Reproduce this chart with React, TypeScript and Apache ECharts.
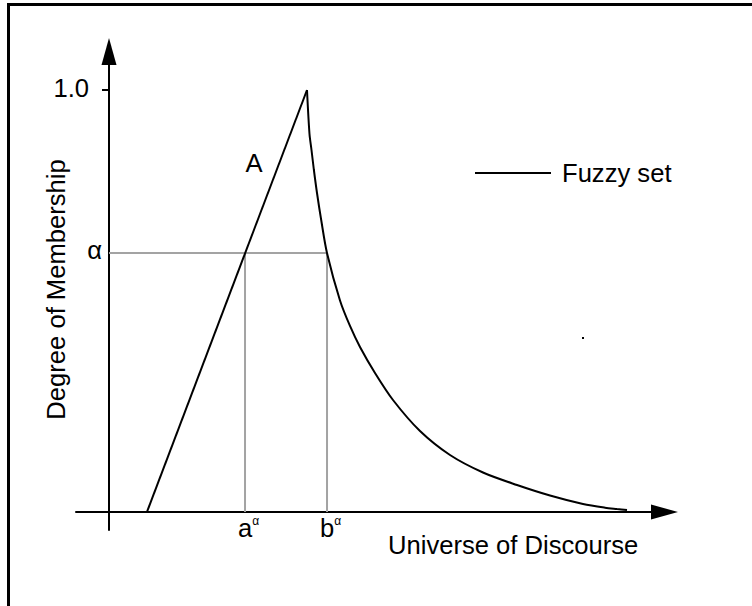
import React, { useEffect, useRef } from "react";
import * as echarts from "echarts";

// Rising edge of fuzzy set A
const riseX = [0.69, 3.6];
const riseY = [0, 1];
// Decaying edge of fuzzy set A
const decayX = [3.6, 3.6455, 3.6818, 3.7255, 3.7818, 3.8582, 3.9636, 4.2, 4.3818, 4.5636, 4.8364, 5.1636, 5.6545, 6.2, 6.8, 7.4182, 8.0182, 8.6182, 9.0182, 9.2364, 9.4182];
const decayY = [1, 0.8957, 0.8578, 0.8104, 0.7559, 0.6919, 0.6137, 0.5012, 0.4408, 0.391, 0.3294, 0.2654, 0.1919, 0.1351, 0.0936, 0.064, 0.0391, 0.019, 0.0102, 0.0071, 0.0047];
// alpha-cut
const alpha = 0.614;
const aAlpha = 2.473;
const bAlpha = 3.964;
const yTickValues = [1];
const yLabelValues = [alpha, 1];
const xLabelValues = [aAlpha, bAlpha];

const FONT = "'Liberation Sans', Arial, Helvetica, sans-serif";
const FS = 25.6;

export default function App() {
  const ref = useRef<HTMLDivElement>(null);
  useEffect(() => {
    document.body.style.margin = "0";
    const chart = echarts.init(ref.current!, null, { renderer: "svg" });
    const rise = riseX.map((x, i) => [x, riseY[i]]);
    const decay = decayX.map((x, i) => [x, decayY[i]]);
    const grayStyle = { color: "#a3a3a3", width: 2 };
    const option: any = {
      animation: false,
      grid: { left: 76, right: 87.5, top: 51.5, bottom: 76 },
      xAxis: {
        type: "value",
        min: -0.6,
        max: 10.1,
        offset: -18,
        splitLine: { show: false },
        axisLine: {
          onZero: false,
          symbol: ["none", "triangle"],
          symbolSize: [15, 27],
          lineStyle: { color: "#000", width: 2 },
        },
        axisTick: { show: false },
        axisLabel: {
          customValues: xLabelValues,
          margin: 3,
          padding: [0, 0, 0, 7],
          formatter: (v: number) => (v === aAlpha ? "{m|a}{s|α}" : "{m|b}{s|α}"),
          rich: {
            m: { fontSize: FS, fontFamily: FONT, color: "#000", lineHeight: 26 },
            s: { fontSize: 12, fontFamily: FONT, color: "#000", lineHeight: 20, verticalAlign: "top" },
          },
        },
      },
      yAxis: {
        type: "value",
        min: -0.04265,
        max: 1.0912,
        offset: -33,
        splitLine: { show: false },
        axisLine: {
          onZero: false,
          symbol: ["none", "triangle"],
          symbolSize: [15, 27],
          lineStyle: { color: "#000", width: 2 },
        },
        axisTick: {
          show: true,
          customValues: yTickValues,
          length: 7,
          lineStyle: { color: "#000", width: 2 },
        },
        axisLabel: {
          customValues: yLabelValues,
          margin: 7,
          formatter: (v: number) => (v === 1 ? "{one|1.0}" : "{al|α}"),
          rich: {
            one: { fontSize: FS, fontFamily: FONT, color: "#000", padding: [0, 13, 4, 0] },
            al: { fontSize: FS, fontFamily: FONT, color: "#000", padding: [0, 0, 5, 0] },
          },
        },
      },
      legend: {
        data: [{ name: "Fuzzy set", icon: "rect" }],
        left: 475,
        top: 160,
        padding: 0,
        itemWidth: 76,
        itemHeight: 2,
        itemStyle: { color: "#000" },
        textStyle: { fontSize: FS, fontFamily: FONT, color: "#000", padding: [0, 0, 0, 6] },
      },
      series: [
        { name: "cutH", type: "line", z: 1, symbol: "none", data: [[0, alpha], [bAlpha, alpha]], lineStyle: grayStyle, silent: true },
        { name: "cutA", type: "line", z: 1, symbol: "none", data: [[aAlpha, alpha], [aAlpha, 0]], lineStyle: grayStyle, silent: true },
        { name: "cutB", type: "line", z: 1, symbol: "none", data: [[bAlpha, alpha], [bAlpha, 0]], lineStyle: grayStyle, silent: true },
        { name: "Fuzzy set", type: "line", z: 3, symbol: "none", data: rise, lineStyle: { color: "#000", width: 2 }, itemStyle: { color: "#000" } },
        { name: "Fuzzy set", type: "line", z: 3, symbol: "none", smooth: 0.3, data: decay, lineStyle: { color: "#000", width: 2 }, itemStyle: { color: "#000" } },
      ],
      graphic: [
        { type: "rect", silent: true, shape: { x: 8.5, y: 4.5, width: 800, height: 700 }, style: { fill: "none", stroke: "#000", lineWidth: 3 } },
        { type: "text", x: 254, y: 163, style: { text: "A", fontSize: FS, fontFamily: FONT, fill: "#000", align: "center", verticalAlign: "middle" } },
        { type: "text", x: 56, y: 289.5, rotation: Math.PI / 2, style: { text: "Degree of Membership", fontSize: FS, fontFamily: FONT, fill: "#000", align: "center", verticalAlign: "middle" } },
        { type: "text", x: 388, y: 545, style: { text: "Universe of Discourse", fontSize: FS, fontFamily: FONT, fill: "#000", align: "left", verticalAlign: "middle" } },
        { type: "rect", silent: true, shape: { x: 582, y: 337, width: 2, height: 2 }, style: { fill: "#000" } },
      ],
    };
    chart.setOption(option);
    return () => chart.dispose();
  }, []);
  return <div ref={ref} style={{ width: 752, height: 606 }} />;
}
